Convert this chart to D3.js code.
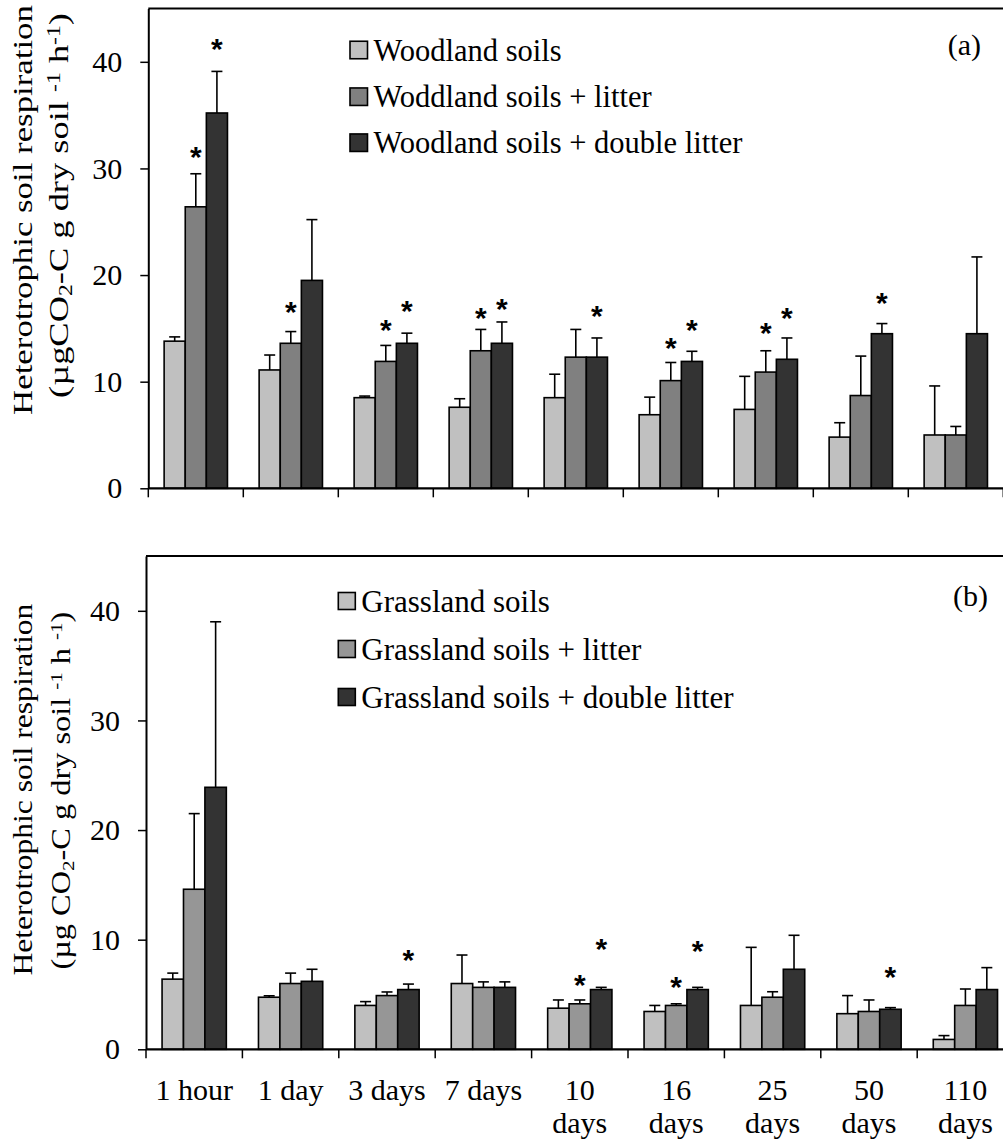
<!DOCTYPE html>
<html><head><meta charset="utf-8">
<script src="https://cdn.jsdelivr.net/npm/d3@7"></script>
<style>body{margin:0;background:#fff}svg{display:block}</style>
</head><body>
<svg id="c" width="1003" height="1145"></svg>
<script>
// ---------- DATA ----------
const categories = ["1 hour","1 day","3 days","7 days","10 days","16 days","25 days","50 days","110 days"];
const tickLabelLines = [["1 hour"],["1 day"],["3 days"],["7 days"],["10","days"],["16","days"],["25","days"],["50","days"],["110","days"]];
const yTicks = [0,10,20,30,40];

// (a) Woodland
const woodNames = ["Woodland soils","Woddland soils + litter","Woodland soils + double litter"];
const woodSoil       = [13.8, 11.1, 8.5, 7.6, 8.5, 6.9, 7.4, 4.8, 5.0];
const woodSoilErr    = [0.4, 1.4, 0.15, 0.8, 2.2, 1.65, 3.1, 1.35, 4.6];
const woodLitter     = [26.4, 13.6, 11.9, 12.9, 12.3, 10.1, 10.9, 8.7, 5.0];
const woodLitterErr  = [3.1, 1.1, 1.5, 2.0, 2.6, 1.7, 2.0, 3.7, 0.8];
const woodDouble     = [35.2, 19.5, 13.6, 13.6, 12.3, 11.9, 12.1, 14.5, 14.5];
const woodDoubleErr  = [3.9, 5.7, 0.95, 2.0, 1.8, 0.95, 2.0, 0.95, 7.2];
// level (in data units) of the significance asterisks
const woodSoilStar   = [null,null,null,null,null,null,null,null,null];
const woodLitterStar = [31.7, 17.2, 15.5, 16.6, null, 13.8, 15.2, null, null];
const woodDoubleStar = [41.9, null, 17.3, 17.5, 16.8, 15.5, 16.6, 18.0, null];

// (b) Grassland
const grassNames = ["Grassland soils","Grassland soils + litter","Grassland soils + double litter"];
const grassSoil      = [6.4, 4.75, 4.0, 6.0, 3.75, 3.45, 4.0, 3.25, 0.9];
const grassSoilErr   = [0.55, 0.13, 0.35, 2.6, 0.75, 0.55, 5.3, 1.65, 0.35];
const grassLitter    = [14.6, 6.0, 4.9, 5.65, 4.15, 4.0, 4.75, 3.45, 4.0];
const grassLitterErr = [6.9, 0.95, 0.33, 0.5, 0.35, 0.15, 0.5, 1.05, 1.5];
const grassDouble    = [23.9, 6.2, 5.45, 5.65, 5.45, 5.45, 7.3, 3.65, 5.45];
const grassDoubleErr = [15.1, 1.1, 0.5, 0.5, 0.2, 0.2, 3.1, 0.15, 2.0];
const grassSoilStar   = [null,null,null,null,null,null,null,null,null];
const grassLitterStar = [null,null,null,null,6.5,6.3,null,null,null];
const grassDoubleStar = [null,null,8.8,null,9.8,9.6,null,7.2,null];

// ---------- DRAW ----------
const SERIF = "'Liberation Serif','Times New Roman',serif";
const SANS = "'Liberation Sans',Arial,sans-serif";
const svg = d3.select("#c");

const panels = [
  {
    top: 8.5, bottom: 488.3, left: 148.3, step: 95,
    names: woodNames,
    values: [woodSoil, woodLitter, woodDouble],
    errs: [woodSoilErr, woodLitterErr, woodDoubleErr],
    stars: [woodSoilStar, woodLitterStar, woodDoubleStar],
    colors: ["#c0c0c0", "#808080", "#333333"],
    legendX: 350, legendRows: [50, 96.7, 142.7], legendSize: 17.5, legendFont: 30.5,
    tag: "(a)", tagX: 981, tagY: 55,
    title1: {cx: 31.5, cy: 210, len: 410, fs: 28},
    title2: {cx: 68, cy: 205.5, len: 385, fs: 28,
      parts: [["(µgCO",""],["2","sub"],["-C g dry soil ",""],["-1","sup"],[" h",""],["-1","sup"],[")",""]]},
    showLabels: false
  },
  {
    top: 556, bottom: 1049.3, left: 146, step: 96.4,
    names: grassNames,
    values: [grassSoil, grassLitter, grassDouble],
    errs: [grassSoilErr, grassLitterErr, grassDoubleErr],
    stars: [grassSoilStar, grassLitterStar, grassDoubleStar],
    colors: ["#c0c0c0", "#969696", "#333333"],
    legendX: 338.3, legendRows: [601, 649, 697], legendSize: 17, legendFont: 31,
    tag: "(b)", tagX: 988, tagY: 606,
    title1: {cx: 32, cy: 789.6, len: 372, fs: 27},
    title2: {cx: 70, cy: 790.6, len: 358, fs: 27,
      parts: [["(µg CO",""],["2","sub"],["-C g dry soil ",""],["-1","sup"],[" h ",""],["-1","sup"],[")",""]]},
    showLabels: true
  }
];

function drawPanel(p) {
  const y = d3.scaleLinear().domain([0, 45]).range([p.bottom, p.top]);
  const xRight = p.left + p.step * categories.length;
  const x = d3.scaleBand().domain(categories).range([p.left, xRight]).padding(0);
  const xs = d3.scaleBand().domain([0, 1, 2]).range([0, x.bandwidth()]).paddingInner(0).paddingOuter(0.75);
  const g = svg.append("g");

  // top frame line
  g.append("line").attr("x1", p.left).attr("x2", xRight).attr("y1", p.top).attr("y2", p.top)
    .attr("stroke", "#000").attr("stroke-width", 2);

  // bars + error bars
  p.values.forEach((vals, si) => {
    const bw = xs.bandwidth();
    const bx = i => x(categories[i]) + xs(si);
    g.append("g").selectAll("rect").data(vals).join("rect")
      .attr("x", (d, i) => bx(i)).attr("y", d => y(d))
      .attr("width", bw).attr("height", d => y(0) - y(d))
      .attr("fill", p.colors[si]).attr("stroke", "#000").attr("stroke-width", 1.6);
    const eg = g.append("g").attr("stroke", "#000").attr("stroke-width", 1.6);
    vals.forEach((v, i) => {
      const cx = bx(i) + bw / 2, e = p.errs[si][i];
      eg.append("line").attr("x1", cx).attr("x2", cx).attr("y1", y(v)).attr("y2", y(v + e));
      eg.append("line").attr("x1", cx - 5.5).attr("x2", cx + 5.5).attr("y1", y(v + e)).attr("y2", y(v + e));
    });
    // asterisks
    g.append("g").selectAll("text").data(p.stars[si].map((s, i) => ({s, i})).filter(d => d.s != null)).join("text")
      .attr("x", d => bx(d.i) + bw / 2).attr("y", d => y(d.s) + 17)
      .attr("text-anchor", "middle").attr("font-family", SANS).attr("font-size", 30).attr("font-weight", "bold")
      .attr("fill", "#000").text("*");
  });

  // y axis
  const ya = g.append("g").attr("transform", `translate(${p.left},0)`)
    .call(d3.axisLeft(y).tickValues(yTicks).tickSize(8).tickSizeOuter(0).tickPadding(18));
  ya.select(".domain").attr("stroke-width", 2);
  ya.selectAll(".tick line").attr("stroke-width", 1.5);
  ya.selectAll(".tick text").attr("font-family", SERIF).attr("font-size", 30).attr("fill", "#000");

  // x axis line + ticks at category boundaries
  g.append("line").attr("x1", p.left).attr("x2", xRight).attr("y1", y(0)).attr("y2", y(0))
    .attr("stroke", "#000").attr("stroke-width", 2.2);
  const bounds = categories.map(c => x(c)).concat([xRight]);
  g.append("g").selectAll("line").data(bounds).join("line")
    .attr("x1", d => d).attr("x2", d => d).attr("y1", y(0)).attr("y2", y(0) + 9)
    .attr("stroke", "#000").attr("stroke-width", 1.5);

  if (p.showLabels) {
    const lg = g.append("g").attr("font-family", SERIF).attr("font-size", 30).attr("fill", "#000").attr("text-anchor", "middle");
    categories.forEach((c, i) => {
      const t = lg.append("text").attr("x", x(c) + x.bandwidth() / 2).attr("y", p.bottom + 51);
      tickLabelLines[i].forEach((ln, k) => {
        t.append("tspan").attr("x", x(c) + x.bandwidth() / 2).attr("dy", k === 0 ? 0 : 33).text(ln);
      });
    });
  }

  // legend
  const leg = g.append("g");
  p.names.forEach((n, si) => {
    const cy = p.legendRows[si];
    leg.append("rect").attr("x", p.legendX).attr("y", cy - p.legendSize / 2)
      .attr("width", p.legendSize).attr("height", p.legendSize)
      .attr("fill", p.colors[si]).attr("stroke", "#000").attr("stroke-width", 1.6);
    leg.append("text").attr("x", p.legendX + p.legendSize + 6).attr("y", cy + 10.5)
      .attr("font-family", SERIF).attr("font-size", p.legendFont).attr("fill", "#000").text(n);
  });

  // panel tag
  g.append("text").attr("x", p.tagX).attr("y", p.tagY).attr("text-anchor", "end")
    .attr("font-family", SERIF).attr("font-size", 30).attr("fill", "#000").text(p.tag);

  // y title (two lines, rotated, stretched to the measured length)
  const t1 = g.append("text").attr("text-anchor", "middle").attr("font-family", SERIF)
    .attr("font-size", p.title1.fs).attr("fill", "#000").text("Heterotrophic soil respiration");
  const n1 = t1.node().getComputedTextLength();
  t1.attr("transform", `translate(${p.title1.cx},${p.title1.cy}) rotate(-90) scale(${p.title1.len / n1},1)`);

  const t2 = g.append("text").attr("text-anchor", "middle").attr("font-family", SERIF)
    .attr("font-size", p.title2.fs).attr("fill", "#000");
  p.title2.parts.forEach(([s, kind]) => {
    const ts = t2.append("tspan").text(s);
    if (kind === "sub") ts.attr("font-size", p.title2.fs * 0.65).attr("baseline-shift", "-22%");
    if (kind === "sup") ts.attr("font-size", p.title2.fs * 0.65).attr("baseline-shift", "45%");
  });
  const n2 = t2.node().getComputedTextLength();
  t2.attr("transform", `translate(${p.title2.cx},${p.title2.cy}) rotate(-90) scale(${p.title2.len / n2},1)`);
}

panels.forEach(drawPanel);
</script>
</body></html>
